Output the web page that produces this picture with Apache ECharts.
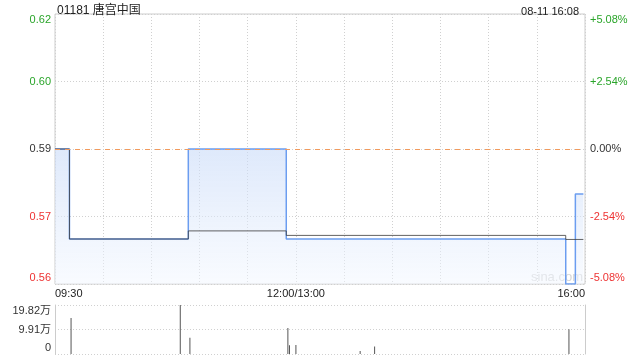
<!DOCTYPE html>
<html><head><meta charset="utf-8">
<script src="https://cdn.jsdelivr.net/npm/echarts@6/dist/echarts.min.js"></script>
<style>html,body{margin:0;padding:0;background:#fff}#c{width:640px;height:360px}</style>
</head><body><div id="c"></div>
<script>
const title = '01181 唐宫中国';
const stamp = '08-11 16:08';
const prevClose = 0.59;
const pctMax = 5.0847;
const leftTickLabels = ['0.56', '0.57', '0.59', '0.60', '0.62'];
const rightTickLabels = ['-5.08%', '-2.54%', '0.00%', '+2.54%', '+5.08%'];
const xLabelTimes = ['09:30', '12:00', '16:00'];
const xLabelTexts = ['09:30', '12:00/13:00', '16:00'];
const priceTimes = ['09:30', '09:39', '10:53', '11:54', '15:48', '15:54', '15:59'];
const prices =     [0.59,    0.57,    0.59,    0.57,    0.56,    0.58,    0.58];
const avgTimes = ['09:30', '09:39', '10:53', '11:54', '15:48', '15:59'];
const avgPrices = [0.59,   0.57,    0.5718,  0.5708,  0.5699,  0.5699];
const volTimes = ['09:40', '10:48', '10:54', '11:55', '11:56', '13:00', '13:40', '13:49', '15:50'];
const volumes =  [146000, 198200,  66000,   105000,  35000,   36000,   12000,   30000,   100000];
const volMax = 198200;
const volTickLabels = ['0', '9.91万', '19.82万'];

function tIdx(t) {
  const [h, m] = t.split(':').map(Number);
  const v = h * 60 + m;
  return v <= 720 ? v - 570 : v - 780 + 150;
}
const pct = p => (p - prevClose) / prevClose * 100;
const pctInt = pctMax / 2;
const labelColors = ['#ee3333', '#ee3333', '#333333', '#2aa52a', '#2aa52a'];
const FONT = '"Liberation Sans", Arial, "Noto Sans CJK SC", sans-serif';

function richLabels(list) {
  return function (v, i) {
    const n = list.length;
    const key = i === 0 ? 'b' : (i === n - 1 ? 't' : 'm');
    return '{' + key + i + '|' + list[i] + '}';
  };
}
function richStyles(n, colors) {
  const r = {};
  for (let i = 0; i < n; i++) {
    const c = colors ? colors[i] : '#333';
    const base = { color: c, fontSize: 11, fontFamily: FONT };
    if (i === 0) r['b' + i] = Object.assign({ padding: [0, 0, 12, 0] }, base);
    else if (i === n - 1) r['t' + i] = Object.assign({ padding: [12, 0, 0, 0] }, base);
    else r['m' + i] = base;
  }
  return r;
}

const chart = echarts.init(document.getElementById('c'), null, { renderer: 'canvas' });
const dotted = { color: '#d0d0d0', type: [1, 2], width: 1 };
const xMin = 0, xMax = tIdx('16:00');

chart.setOption({
  animation: false,
  textStyle: { fontFamily: FONT },
  title: [
    { text: title, left: 52, top: 0, textStyle: { fontSize: 12, fontWeight: 'normal', color: '#222', fontFamily: FONT } },
    { text: stamp, right: 56, top: 1, textStyle: { fontSize: 11, fontWeight: 'normal', color: '#222', fontFamily: FONT } }
  ],
  graphic: [{ type: 'text', left: 531, top: 271, z: 0, style: { text: 'sina.com', fill: '#d6d6d6', fontSize: 13, fontFamily: FONT } }],
  grid: [
    { left: 55, right: 55, top: 14, height: 270, show: true, borderColor: '#cccccc', borderWidth: 1 },
    { left: 55, right: 55, top: 305, height: 49 }
  ],
  xAxis: [
    {
      type: 'value', gridIndex: 0, min: xMin, max: xMax, interval: 30,
      axisLine: { show: false }, axisTick: { show: false },
      splitLine: { show: true, lineStyle: dotted },
      axisLabel: {
        margin: 4, fontSize: 11, color: '#222', showMinLabel: true, showMaxLabel: true,
        alignMinLabel: 'left', alignMaxLabel: 'right',
        formatter: v => { const k = xLabelTimes.findIndex(t => tIdx(t) === v); return k >= 0 ? xLabelTexts[k] : ''; }
      }
    },
    {
      type: 'value', gridIndex: 1, min: xMin, max: xMax, interval: 30,
      axisLine: { show: false }, axisTick: { show: false }, axisLabel: { show: false }, splitLine: { show: false }
    }
  ],
  yAxis: [
    {
      type: 'value', gridIndex: 0, min: -pctMax, max: pctMax, interval: pctInt,
      axisLine: { show: false }, axisTick: { show: false },
      splitLine: { show: true, lineStyle: dotted },
      axisLabel: { margin: 4, formatter: richLabels(leftTickLabels), rich: richStyles(5, labelColors) }
    },
    {
      type: 'value', gridIndex: 0, position: 'right', min: -pctMax, max: pctMax, interval: pctInt,
      axisLine: { show: false }, axisTick: { show: false }, splitLine: { show: false },
      axisLabel: { margin: 5, formatter: richLabels(rightTickLabels), rich: richStyles(5, labelColors) }
    },
    {
      type: 'value', gridIndex: 1, min: 0, max: volMax, interval: volMax / 2,
      axisLine: { show: true, lineStyle: { color: '#cccccc' } }, axisTick: { show: false },
      splitLine: { show: true, lineStyle: dotted },
      axisLabel: { margin: 4, formatter: richLabels(volTickLabels), rich: richStyles(3, null) }
    },
    {
      type: 'value', gridIndex: 1, position: 'right', min: 0, max: volMax, interval: volMax / 2,
      axisLine: { show: true, lineStyle: { color: '#cccccc' } }, axisTick: { show: false },
      splitLine: { show: false }, axisLabel: { show: false }
    }
  ],
  series: [
    {
      type: 'line', xAxisIndex: 0, yAxisIndex: 0, step: 'end', symbol: 'none', z: 3,
      data: priceTimes.map((t, i) => [tIdx(t), pct(prices[i])]),
      lineStyle: { color: '#6b9df0', width: 1.5 },
      areaStyle: {
        origin: 'start',
        color: new echarts.graphic.LinearGradient(0, 0, 0, 1, [
          { offset: 0, color: 'rgba(200,218,248,0.85)' },
          { offset: 1, color: 'rgba(242,247,255,0.7)' }
        ])
      },
      markLine: {
        silent: true, symbol: 'none', label: { show: false }, z: 5,
        lineStyle: { color: '#f29a5c', type: [5, 5], width: 1 },
        data: [{ yAxis: 0 }]
      }
    },
    {
      type: 'line', xAxisIndex: 0, yAxisIndex: 0, step: 'end', symbol: 'none', z: 4,
      data: avgTimes.map((t, i) => [tIdx(t), pct(avgPrices[i])]),
      lineStyle: { color: 'rgba(60,60,60,0.8)', width: 1 }
    },
    {
      type: 'bar', xAxisIndex: 1, yAxisIndex: 2, barWidth: 1,
      data: volTimes.map((t, i) => [tIdx(t), volumes[i]]),
      itemStyle: { color: '#555555' }
    }
  ]
});
</script></body></html>
